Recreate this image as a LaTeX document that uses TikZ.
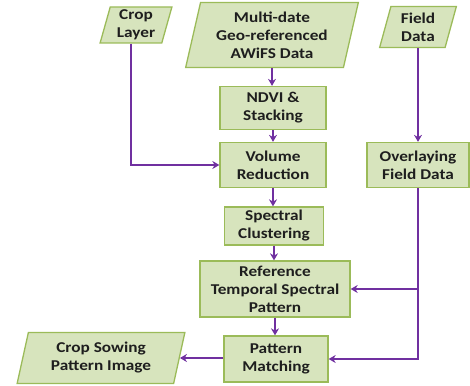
\documentclass[tikz,border=0pt]{standalone}
\usepackage{fontspec}
\setmainfont{Carlito}[FakeStretch=1.15]
\usetikzlibrary{shapes.geometric,arrows.meta,calc}
\definecolor{boxfill}{HTML}{D7E4BD}
\definecolor{boxline}{HTML}{9BBB59}
\definecolor{arrowc}{HTML}{7030A0}
\definecolor{textc}{HTML}{1E1E1E}
\begin{document}
\begin{tikzpicture}[x=1pt,y=-1pt,
  base/.style={draw=boxline, fill=boxfill, line width=1.3pt, font=\fontsize{15}{18}\selectfont\bfseries, text=textc, align=center, inner sep=0pt},
  proc/.style={base, rectangle},
  io/.style={base, trapezium, trapezium left angle=76, trapezium right angle=104, trapezium stretches=true},
  flow/.style={draw=arrowc, line width=1.7pt, -{Stealth[length=7pt,width=8pt]}}]
\useasboundingbox (0,0) rectangle (470,385);
\node[io, minimum width=72, minimum height=36] (crop) at (136,25) {Crop\\Layer};
\node[io, minimum width=173, minimum height=65] (multi) at (272,35) {Multi-date\\Geo-referenced\\AWiFS Data};
\node[io, minimum width=77, minimum height=41] (field) at (418,27) {Field\\Data};
\node[proc, minimum width=106, minimum height=43] (ndvi) at (273,108) {NDVI \&\\Stacking};
\node[proc, minimum width=106, minimum height=45] (vol) at (273,165) {Volume\\Reduction};
\node[proc, minimum width=102, minimum height=45] (over) at (418,165) {Overlaying\\Field Data};
\node[proc, minimum width=99, minimum height=38] (spec) at (274,226) {Spectral\\Clustering};
\node[proc, minimum width=150, minimum height=56] (ref) at (275,289) {Reference\\Temporal Spectral\\Pattern};
\node[proc, minimum width=104, minimum height=46] (pm) at (276,359) {Pattern\\Matching};
\node[io, minimum width=168, minimum height=51] (sow) at (101,358) {Crop Sowing\\Pattern Image};

\draw[flow] (multi.south) -- (multi.south |- ndvi.north);
\draw[flow] (ndvi.south) -- (ndvi.south |- vol.north);
\draw[flow] (vol.south) -- (vol.south |- spec.north);
\draw[flow] (spec.south) -- (spec.south |- ref.north);
\draw[flow] (ref.south) -- (ref.south |- pm.north);
\draw[flow] (crop.bottom side) |- (vol.west);
\draw[flow] (over.north |- field.south) -- (over.north);
\draw[flow] (over.south) |- (pm.east);
\draw[flow] (over.south |- ref.east) -- (ref.east);
\draw[flow] (pm.west |- sow.east) -- (sow.east);
\end{tikzpicture}
\end{document}
